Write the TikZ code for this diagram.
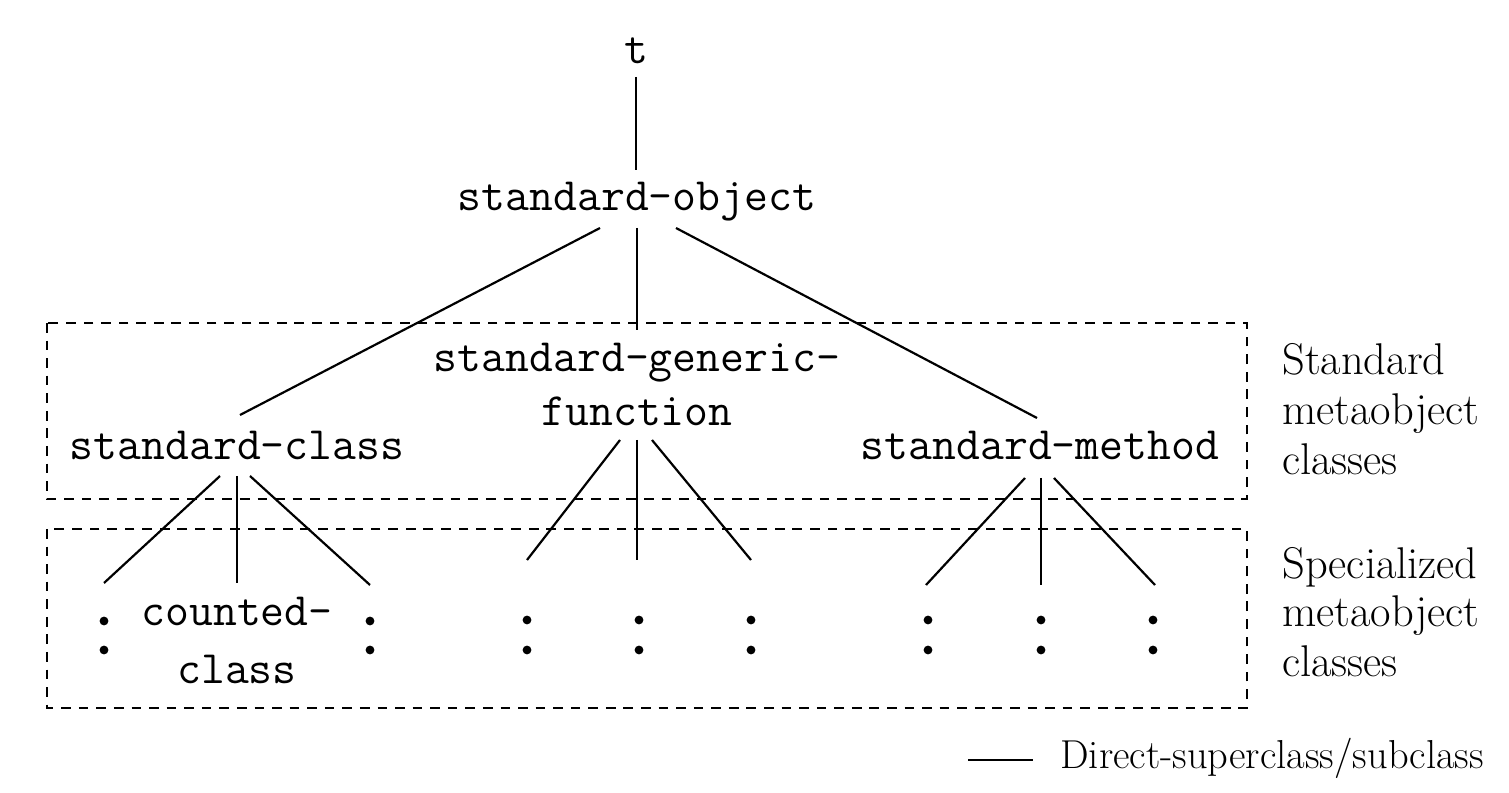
\documentclass[tikz,border=0pt]{standalone}
\begin{document}
\begin{tikzpicture}[x=0.02cm,y=-0.02cm,
  cls/.style={inner sep=0pt,anchor=base,font=\fontsize{26.4}{31}\selectfont\ttfamily},
  lbl/.style={inner sep=0pt,anchor=base west,font=\fontsize{25.3}{30}\selectfont\rmfamily},
  leglbl/.style={inner sep=0pt,anchor=base west,font=\fontsize{23}{28}\selectfont\rmfamily},
  link/.style={line width=1.25pt},
  grp/.style={line width=1.25pt,dash pattern=on 5.5pt off 4.5pt},
  dotmark/.style={circle,fill=black,inner sep=0pt,minimum size=5pt}]
\useasboundingbox (0,0) rectangle (1509,793);
% groups
\draw[grp] (47,323) rectangle (1247,499);
\draw[grp] (47,529) rectangle (1247,708);
% class nodes
\node[cls] (t) at (636,64) {t};
\node[cls] (so) at (637,211) {standard-object};
\node[cls] (sgf1) at (637,372) {standard-generic-};
\node[cls] (sgf2) at (637,426) {function};
\node[cls] (sc) at (237,460) {standard-class};
\node[cls] (sm) at (1040,460) {standard-method};
\node[cls] (cc1) at (237,626) {counted-};
\node[cls] (cc2) at (237,684) {class};
% connector ends
\coordinate (tB) at (636,77);
\coordinate (soT) at (636,170);
\coordinate (soL) at (600,228);
\coordinate (soM) at (637,228);
\coordinate (soR) at (676,228);
\coordinate (scT) at (240,415);
\coordinate (sgfT) at (637,330);
\coordinate (smT) at (1037,418);
\coordinate (scL) at (220,476);
\coordinate (scM) at (237,476);
\coordinate (scR) at (250,476);
\coordinate (sgL) at (620,440);
\coordinate (sgM) at (637,440);
\coordinate (sgR) at (652,440);
\coordinate (smL) at (1025,478);
\coordinate (smM) at (1041,478);
\coordinate (smR) at (1054,478);
\coordinate (c1) at (104,583);
\coordinate (c2) at (237,583);
\coordinate (c3) at (370,585);
\coordinate (c4) at (527,560);
\coordinate (c5) at (637,560);
\coordinate (c6) at (751,560);
\coordinate (c7) at (926,585);
\coordinate (c8) at (1041,585);
\coordinate (c9) at (1155,585);
\draw[link] (tB) -- (soT);
\draw[link] (soL) -- (scT);
\draw[link] (soM) -- (sgfT);
\draw[link] (soR) -- (smT);
\draw[link] (scL) -- (c1);
\draw[link] (scM) -- (c2);
\draw[link] (scR) -- (c3);
\draw[link] (sgL) -- (c4);
\draw[link] (sgM) -- (c5);
\draw[link] (sgR) -- (c6);
\draw[link] (smL) -- (c7);
\draw[link] (smM) -- (c8);
\draw[link] (smR) -- (c9);
% dots
\foreach \n/\x/\ya/\yb in {d1/104/621/650, d3/370/621/650, d4/527/620/650, d5/639/620/650, d6/751/620/650, d7/928/620/650, d8/1041/620/650, d9/1153/620/650}{
  \node[dotmark] (\n a) at (\x,\ya) {};
  \node[dotmark] (\n b) at (\x,\yb) {};
}
% side labels
\node[lbl] (l1) at (1282,375) {Standard};
\node[lbl] (l2) at (1282,425) {metaobject};
\node[lbl] (l3) at (1282,475) {classes};
\node[lbl] (l4) at (1282,579) {Specialized};
\node[lbl] (l5) at (1282,627) {metaobject};
\node[lbl] (l6) at (1282,677) {classes};
% legend
\coordinate (legA) at (968,760);
\coordinate (legB) at (1033,760);
\draw[line width=0.9pt] (legA) -- (legB);
\node[leglbl] (leg) at (1060,769) {Direct-superclass/subclass};
\end{tikzpicture}
\end{document}
